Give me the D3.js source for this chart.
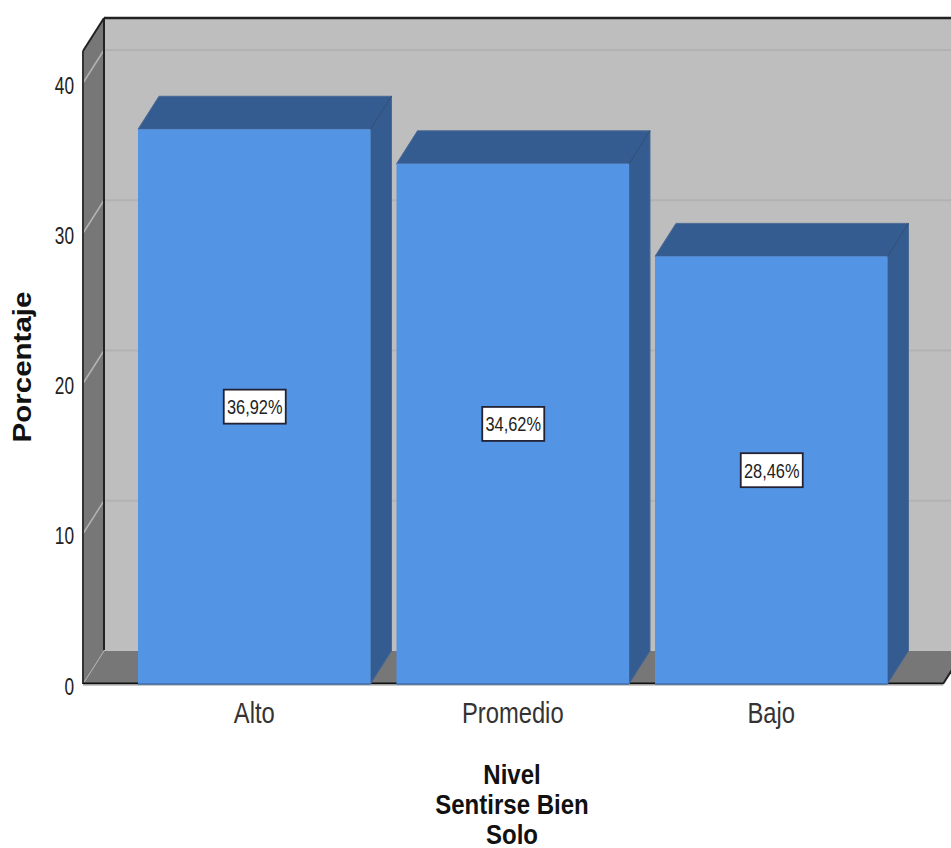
<!DOCTYPE html>
<html><head><meta charset="utf-8">
<script src="https://cdn.jsdelivr.net/npm/d3@7"></script>
<style>html,body{margin:0;padding:0;background:#fff;overflow:hidden}svg{display:block}text{font-family:"Liberation Sans",Arial,sans-serif}</style>
</head><body><svg id="c" width="951" height="848"></svg>
<script>
const categories = ["Alto","Promedio","Bajo"];
const values = [36.92,34.62,28.46];
const valueLabels = ["36,92%","34,62%","28,46%"];
const yTicks = [0,10,20,30,40];
const xTitle = ["Nivel","Sentirse Bien","Solo"];
const yTitle = "Porcentaje";

const W=951,H=848, dx=21, dy=-33;
const x0=83, x1=943, yBase=684, yTop=51;
const svg=d3.select("#c");
const y=d3.scaleLinear().domain([0,40]).range([yBase,83]);
const x=d3.scalePoint().domain(categories).range([138,655]);
const bw=232.5;
const poly=(pts,fill,stroke,sw)=>svg.append("polygon").attr("points",pts.map(p=>p.join(",")).join(" ")).attr("fill",fill).attr("stroke",stroke||"none").attr("stroke-width",sw||0);
const line=(a,b,c,w)=>svg.append("line").attr("x1",a[0]).attr("y1",a[1]).attr("x2",b[0]).attr("y2",b[1]).attr("stroke",c).attr("stroke-width",w);
const label=(s,px,py,size,sx,opts={})=>{
  const t=svg.append("text").attr("transform",`translate(${px},${py}) rotate(${opts.rot||0}) scale(${sx},1)`)
    .attr("text-anchor",opts.anchor||"middle").attr("font-size",size).attr("fill",opts.fill||"#222")
    .attr("font-weight",opts.bold?"bold":"normal").text(s);
  return t;
};

poly([[x0+dx,yTop+dy],[W+30,yTop+dy],[W+30,yBase+dy],[x0+dx,yBase+dy]],"#bebebe");
poly([[x0,yTop],[x0+dx,yTop+dy],[x0+dx,yBase+dy],[x0,yBase]],"#777777");
poly([[x0,yBase],[x0+dx,yBase+dy],[x1+dx,yBase+dy],[x1,yBase]],"#777777");
yTicks.slice(1).forEach(t=>{
  line([x0+dx,y(t)+dy],[W,y(t)+dy],"#b2b2b2",2);
  line([x0,y(t)],[x0+dx,y(t)+dy],"#b4b4b4",1.5);
});
line([x0,yBase],[x0+dx,yBase+dy],"#b4b4b4",1);
line([x0+dx,yTop+dy],[W,yTop+dy],"#222",2.5);
line([x0+dx,yTop+dy],[x0+dx,yBase+dy-1],"#222",2);
line([x0,yTop],[x0+dx,yTop+dy],"#222",2);
line([x0,yTop],[x0,yBase],"#333",2);
line([x0,yBase-.5],[x1,yBase-.5],"#111",2);
line([x0,yBase+1.2],[x1,yBase+1.2],"#b8b8b8",1.2);
line([x1,yBase],[x1+dx,yBase+dy],"#222",2);

categories.forEach((c,i)=>{
  const l=x(c), r=l+bw, t=y(values[i]), b=yBase;
  poly([[r,t],[r+dx,t+dy],[r+dx,b+dy],[r,b]],"#345c90","#4a6a94",1);
  poly([[l,t],[l+dx,t+dy],[r+dx,t+dy],[r,t]],"#345c90","#4a6a94",1);
  svg.append("rect").attr("x",l).attr("y",t).attr("width",bw).attr("height",b-t).attr("fill","#5394e5");
  line([l,b],[r,b],"#3f6fa8",1.5);
  line([r,t],[r+dx,t+dy],"#2c4a70",1);
  const cx=l+bw/2+.5, cy=y(values[i]/2);
  svg.append("rect").attr("x",cx-31).attr("y",cy-17).attr("width",62).attr("height",34).attr("fill","#fff").attr("stroke","#223").attr("stroke-width",1.8);
  label(valueLabels[i],cx,cy+7.5,21,0.78,{fill:"#222"});
  label(c,l+bw/2,723,29,0.82,{fill:"#333"});
});

yTicks.forEach(t=>{
  label(t,74,y(t)+10.5,23,0.75,{anchor:"end"});
});
label(yTitle,31,367,25,1.18,{rot:-90,bold:true,fill:"#111"});
xTitle.forEach((s,i)=>{
  label(s,512,784+i*30,27,0.89,{bold:true,fill:"#111"});
});
</script></body></html>
